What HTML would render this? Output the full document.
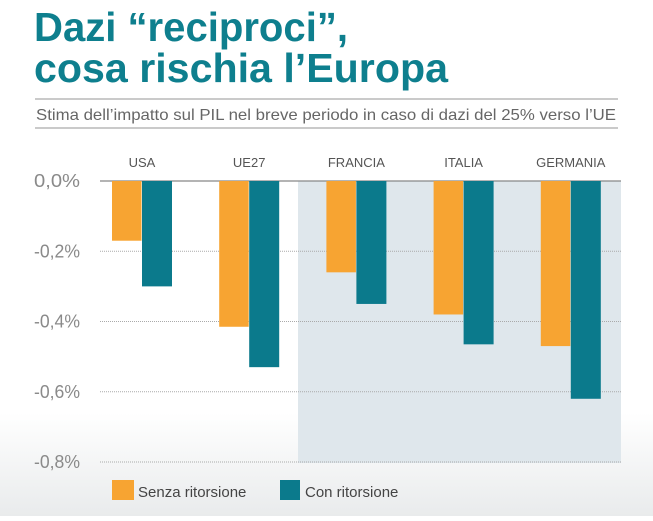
<!DOCTYPE html>
<html><head><meta charset="utf-8"><style>
html,body{margin:0;padding:0;background:#fff;}
body{width:653px;height:516px;overflow:hidden;font-family:"Liberation Sans",sans-serif;}
</style></head><body>
<svg width="653" height="516" viewBox="0 0 653 516">
<defs><linearGradient id="bg" x1="0" y1="0" x2="0" y2="1">
<stop offset="0" stop-color="#ffffff"/><stop offset="0.8" stop-color="#ffffff"/><stop offset="1" stop-color="#e9ebec"/></linearGradient></defs>
<rect width="653" height="516" fill="url(#bg)"/>
<text x="34" y="41" font-size="41" font-weight="bold" fill="#0e7f8e" textLength="314" lengthAdjust="spacingAndGlyphs">Dazi “reciproci”,</text>
<text x="34" y="82" font-size="41" font-weight="bold" fill="#0e7f8e" textLength="414" lengthAdjust="spacingAndGlyphs">cosa rischia l’Europa</text>
<line x1="35" y1="99" x2="618" y2="99" stroke="#aaa" stroke-width="1.2"/>
<text x="36" y="120" font-size="16" fill="#666" textLength="580" lengthAdjust="spacingAndGlyphs">Stima dell’impatto sul PIL nel breve periodo in caso di dazi del 25% verso l’UE</text>
<line x1="35" y1="128" x2="618" y2="128" stroke="#aaa" stroke-width="1.2"/>
<rect x="298" y="181" width="323" height="282" fill="#dfe7ec"/>
<g id="plot"></g>
<rect x="112" y="480" width="22" height="20" fill="#f7a432"/>
<text x="138" y="497" font-size="15" fill="#444">Senza ritorsione</text>
<rect x="280" y="480" width="20" height="20" fill="#0b7a8c"/>
<text x="305" y="497" font-size="15" fill="#444">Con ritorsione</text>
</svg>
<script>
const categories=["USA","UE27","FRANCIA","ITALIA","GERMANIA"];
const senza=[-0.17,-0.415,-0.26,-0.38,-0.47];
const con=[-0.30,-0.53,-0.35,-0.465,-0.62];
const ticks=[0,-0.2,-0.4,-0.6,-0.8];
const tickLabels=["0,0%","-0,2%","-0,4%","-0,6%","-0,8%"];
const NS="http://www.w3.org/2000/svg";
const g=document.getElementById('plot');
const y=v=>181+(-v)*351.25;
const groupX=i=>112+i*107.2;
function mk(t,a){const e=document.createElementNS(NS,t);for(const k in a)e.setAttribute(k,a[k]);g.appendChild(e);return e;}
ticks.forEach((t,i)=>{
 const l=mk('line',{x1:100,x2:621,y1:y(t),y2:y(t),stroke:i===0?'#888':'#aaa','stroke-width':i===0?1.3:1,'stroke-dasharray':i===0?'none':'1,1'});
 
 
 const tx=mk('text',{x:34,y:y(t)+6,'font-size':18,fill:'#8a8a8a',textLength:46,lengthAdjust:'spacingAndGlyphs'});
 tx.textContent=tickLabels[i];
 
 
});
categories.forEach((c,i)=>{
 const x=groupX(i);
 const lb=mk('text',{x:x+30,y:167,'font-size':13,fill:'#555','text-anchor':'middle'});
 lb.textContent=c;
 
 
 const b1=mk('rect',{x:x,y:y(0),width:29.5,height:y(senza[i])-y(0),fill:'#f7a432'});
 
 
 const b2=mk('rect',{x:x+30,y:y(0),width:30,height:y(con[i])-y(0),fill:'#0b7a8c'});
 
 
});
</script>
</body></html>
